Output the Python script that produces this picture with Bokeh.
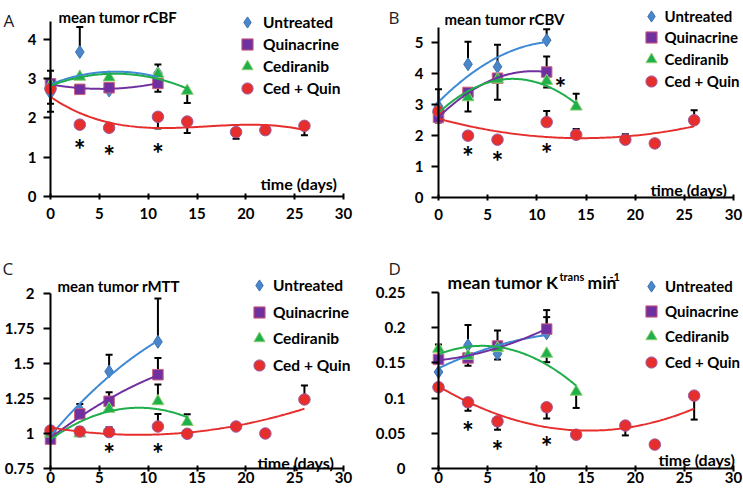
import numpy as np
from bokeh.plotting import figure
from bokeh.models import Range1d, FixedTicker, Label, Legend, LegendItem
from bokeh.layouts import column, row
from bokeh.embed import file_html
from bokeh.resources import INLINE
from bokeh.core.properties import value

# ---------------- data ----------------
series_names = ["Untreated", "Quinacrine", "Cediranib", "Ced + Quin"]
days_untreated = [0, 3, 6, 11]
days_quin = [0, 3, 6, 11]
days_ced = [0, 3, 6, 11, 14]
days_cq = [0, 3, 6, 11, 14, 19, 22, 26]
x_ticks = [0, 5, 10, 15, 20, 25, 30]

# Panel A: rCBF   (signed error: + upward bar, - downward bar, 0 none)
A_untreated = [2.64, 3.68, 2.70, 3.14]
A_untreated_err = [-0.28, 0.64, 0, 0.22]
A_quin = [2.87, 2.73, 2.77, 2.88]
A_quin_err = [0.33, 0, 0, -0.21]
A_ced = [2.84, 3.05, 3.03, 3.12, 2.69]
A_ced_err = [0, 0, 0, 0, -0.31]
A_cq = [2.74, 1.83, 1.75, 2.03, 1.91, 1.64, 1.69, 1.80]
A_cq_err = [-0.58, 0, 0, -0.30, -0.29, -0.17, 0, -0.24]
A_star_x = [3, 6, 11]
A_star_y = [1.30, 1.17, 1.22]
A_yticks = [0, 1, 2, 3, 4]
A_ylabels = ["0", "1", "2", "3", "4"]
A_fit_order = [2, 2, 2, 3]

# Panel B: rCBV
B_untreated = [2.95, 4.31, 4.23, 5.09]
B_untreated_err = [0.55, 0.73, 0.71, 0.35]
B_quin = [2.59, 3.40, 3.86, 4.06]
B_quin_err = [-0.16, 0, -0.70, 0.50]
B_ced = [2.85, 3.24, 3.82, 3.77, 2.94]
B_ced_err = [0, -0.46, 0, -0.21, 0.42]
B_cq = [2.79, 2.00, 1.87, 2.44, 2.03, 1.87, 1.75, 2.50]
B_cq_err = [0, 0, 0, 0.36, 0.19, 0.18, 0, 0.32]
B_star_x = [3, 6, 11, 12.4]
B_star_y = [1.46, 1.30, 1.57, 3.72]
B_yticks = [0, 1, 2, 3, 4, 5]
B_ylabels = ["0", "1", "2", "3", "4", "5"]
B_fit_order = [2, 2, 2, 2]

# Panel C: rMTT
C_untreated = [1.00, 1.17, 1.443, 1.655]
C_untreated_err = [0, 0.04, 0.12, 0.31]
C_quin = [0.96, 1.14, 1.23, 1.42]
C_quin_err = [0, 0, 0.065, 0.12]
C_ced = [1.00, 1.00, 1.176, 1.23, 1.082]
C_ced_err = [0, 0, 0, 0.12, 0.055]
C_cq = [1.021, 1.014, 1.01, 1.05, 0.998, 1.05, 1.00, 1.243]
C_cq_err = [0, 0.03, 0.035, 0.09, 0, 0, 0, 0.10]
C_star_x = [6, 11]
C_star_y = [0.886, 0.886]
C_yticks = [0.75, 1.0, 1.25, 1.5, 1.75, 2.0]
C_ylabels = ["0.75", "1", "1.25", "1.5", "1.75", "2"]
C_fit_order = [2, 2, 2, 2]

# Panel D: Ktrans
D_untreated = [0.137, 0.175, 0.163, 0.192]
D_untreated_err = [0, 0.029, -0.008, 0.023]
D_quin = [0.155, 0.157, 0.174, 0.198]
D_quin_err = [0, -0.011, 0.022, 0.027]
D_ced = [0.170, 0.160, 0.171, 0.163, 0.109]
D_ced_err = [0.006, 0, 0, -0.012, -0.023]
D_cq = [0.1155, 0.094, 0.067, 0.087, 0.048, 0.061, 0.034, 0.1035]
D_cq_err = [0, -0.012, -0.012, -0.016, 0, -0.014, 0, -0.034]
D_star_x = [3, 6, 11]
D_star_y = [0.0587, 0.0317, 0.038]
D_yticks = [0, 0.05, 0.1, 0.15, 0.2, 0.25]
D_ylabels = ["0", "0.05", "0.1", "0.15", "0.2", "0.25"]
D_fit_order = [2, 2, 2, 2]

# ---------------- styles ----------------
FONT = "Lato"
STYLE = {
    "Untreated": dict(marker="diamond", fill="#4a86c8", line="#3d74b5", trend="#3f8ad4", size=13),
    "Quinacrine": dict(marker="square", fill="#7030a0", line="#d0607a", trend="#7030a0", size=10.5),
    "Cediranib": dict(marker="triangle", fill="#1db04b", line="#92cf72", trend="#1fae4c", size=12),
    "Ced + Quin": dict(marker="circle", fill="#e62e2d", line="#9b5aa0", trend="#e62e2d", size=11.5),
}


def make_panel(spec, series, stars, yticks, ylabels, orders):
    fx, fy, w, h = spec["fx"], spec["fy"], spec["w"], spec["h"]
    ppu_x = (spec["x30"] - spec["x0"]) / 30.0
    ppu_y = (spec["ybot"] - spec["ytop"]) / (spec["ymax"] - spec["ymin"])
    x_start = -(spec["x0"] - fx) / ppu_x
    xr = Range1d(x_start, x_start + w / ppu_x)
    yr = Range1d(spec["ymin"] - (fy + h - spec["ybot"]) / ppu_y,
                 spec["ymin"] + (spec["ybot"] - fy) / ppu_y)
    p = figure(width=w, height=h, x_range=xr, y_range=yr, title=None,
               output_backend="svg", toolbar_location=None, min_border=0)
    p.outline_line_color = None
    p.grid.visible = False
    p.background_fill_color = "white"
    p.border_fill_color = "white"

    p.xaxis.fixed_location = spec["ymin"]
    p.xaxis.bounds = (0, 30)
    p.xaxis.ticker = FixedTicker(ticks=x_ticks)
    p.xaxis.major_tick_in = 3
    p.xaxis.major_tick_out = 3
    p.xaxis.major_label_standoff = spec["xstand"]
    p.yaxis.fixed_location = 0
    p.yaxis.bounds = (spec["ymin"], spec["ymax"])
    p.yaxis.ticker = FixedTicker(ticks=yticks)
    p.yaxis.major_label_overrides = {float(t): l for t, l in zip(yticks, ylabels)}
    p.yaxis.major_tick_in = 0
    p.yaxis.major_tick_out = 7
    p.yaxis.major_label_standoff = spec["ystand"]
    for ax in (p.xaxis, p.yaxis):
        ax.axis_line_width = 2
        ax.axis_line_color = "black"
        ax.major_tick_line_width = 2
        ax.major_tick_line_color = "black"
        ax.minor_tick_line_color = None
        ax.major_label_text_font = FONT
        ax.major_label_text_font_style = "bold"
        ax.major_label_text_font_size = "15px"
        ax.major_label_text_color = "black"

    # error bars
    for name, (xs, ys, errs) in zip(series_names, series):
        ex = [x for x, e in zip(xs, errs) if e != 0]
        ey0 = [y for y, e in zip(ys, errs) if e != 0]
        ey1 = [y + e for y, e in zip(ys, errs) if e != 0]
        if ex:
            p.segment(x0=ex, y0=ey0, x1=ex, y1=ey1, line_color="black", line_width=2)
            p.scatter(x=ex, y=ey1, marker="dash", size=7, line_color="black", line_width=2)

    # markers
    rends = []
    for name, (xs, ys, errs) in zip(series_names, series):
        st = STYLE[name]
        r = p.scatter(x=xs, y=ys, marker=st["marker"], size=st["size"],
                      fill_color=st["fill"], line_color=st["line"], line_width=1)
        rends.append(r)

    # polynomial trend lines (fitted to the series values)
    for name, (xs, ys, errs), order in zip(series_names, series, orders):
        coef = np.polyfit(xs, ys, order)
        fxs = np.linspace(0, max(xs), 120)
        p.line(x=fxs, y=np.polyval(coef, fxs), line_color=STYLE[name]["trend"], line_width=2)

    # significance stars
    sx, sy = stars
    p.text(x=sx, y=sy, text=["*"] * len(sx), text_font=value(FONT), text_font_style="bold",
           text_font_size="28px", text_align="center", text_baseline="alphabetic",
           y_offset=4, text_color="black")

    # legend: one box per entry so that rows sit exactly where the reference has them
    lg = spec["legend"]
    gh = 28
    for i, (n, r) in enumerate(zip(series_names, rends)):
        cy = lg["cy0"] + i * lg["dy"]
        legend = Legend(items=[LegendItem(label=n, renderers=[r])],
                        location=(lg["cx"] - gh / 2 - fx, fy + h - (cy + gh / 2)),
                        orientation="vertical", glyph_width=gh, glyph_height=gh, spacing=0,
                        label_standoff=lg["standoff"], padding=0, margin=0,
                        border_line_color=None, background_fill_alpha=0,
                        label_text_font=FONT, label_text_font_style="bold",
                        label_text_font_size=lg["font"], label_text_color="black", label_height=10)
        p.add_layout(legend)

    # texts (picture coordinates converted to frame-relative screen units)
    for txt, px, py, size, font, style in spec["texts"]:
        p.add_layout(Label(x=px - fx, y=fy + h - py, x_units="screen", y_units="screen",
                           text=txt, text_font=font, text_font_style=style,
                           text_font_size=size,
                           text_color="#222222" if style == "normal" else "black",
                           text_baseline="alphabetic", text_align="left"))
    return p


def S(days, vals, errs):
    return (days, vals, errs)


LW = 362  # width of the left column of panels

specA = dict(fx=0, fy=0, w=LW, h=250, x0=50, x30=343, ybot=196, ytop=21.3, ymin=0, ymax=4.45,
             xstand=8, ystand=7,
             legend=dict(cx=247, cy0=21.7, dy=22.2, standoff=2, font="15.5px"),
             texts=[("A", 3, 20, "17px", "Open Sans", "normal"),
                    ("mean tumor rCBF", 58, 16.7, "15px", FONT, "bold"),
                    ("time (days)", 260, 182.7, "16px", FONT, "bold")])
specB = dict(fx=LW, fy=0, w=743 - LW, h=250, x0=438, x30=733, ybot=197, ytop=27, ymin=0, ymax=5.5,
             xstand=8, ystand=8,
             legend=dict(cx=650.5, cy0=15.5, dy=21.7, standoff=0, font="15px"),
             texts=[("B", 388, 17, "17px", "Open Sans", "normal"),
                    ("mean tumor rCBV", 444, 18, "15px", FONT, "bold"),
                    ("time (days)", 650, 189, "16px", FONT, "bold")])
specC = dict(fx=0, fy=250, w=LW, h=250, x0=50, x30=343, ybot=468, ytop=293, ymin=0.75, ymax=2.0,
             xstand=0, ystand=9,
             legend=dict(cx=259, cy0=285, dy=26.7, standoff=0, font="15.5px"),
             texts=[("C", 2, 268, "17px", "Open Sans", "normal"),
                    ("mean tumor rMTT", 57, 285.7, "15px", FONT, "bold"),
                    ("time (days)", 257, 462.3, "16px", FONT, "bold")])
specD = dict(fx=LW, fy=250, w=743 - LW, h=250, x0=438, x30=733, ybot=468, ytop=292, ymin=0, ymax=0.25,
             xstand=0, ystand=26,
             legend=dict(cx=651, cy0=286, dy=25.2, standoff=0, font="15px"),
             texts=[("D", 388, 268, "17px", "Open Sans", "normal"),
                    ("mean tumor K", 447, 282, "17.5px", FONT, "bold"),
                    ("trans", 559, 276, "11px", FONT, "bold"),
                    ("min", 587, 282, "17.5px", FONT, "bold"),
                    ("-1", 609, 276, "11px", FONT, "bold"),
                    ("time (days)", 658, 459, "16px", FONT, "bold")])

pA = make_panel(specA, [S(days_untreated, A_untreated, A_untreated_err), S(days_quin, A_quin, A_quin_err),
                        S(days_ced, A_ced, A_ced_err), S(days_cq, A_cq, A_cq_err)],
                (A_star_x, A_star_y), A_yticks, A_ylabels, A_fit_order)
pB = make_panel(specB, [S(days_untreated, B_untreated, B_untreated_err), S(days_quin, B_quin, B_quin_err),
                        S(days_ced, B_ced, B_ced_err), S(days_cq, B_cq, B_cq_err)],
                (B_star_x, B_star_y), B_yticks, B_ylabels, B_fit_order)
pC = make_panel(specC, [S(days_untreated, C_untreated, C_untreated_err), S(days_quin, C_quin, C_quin_err),
                        S(days_ced, C_ced, C_ced_err), S(days_cq, C_cq, C_cq_err)],
                (C_star_x, C_star_y), C_yticks, C_ylabels, C_fit_order)
pD = make_panel(specD, [S(days_untreated, D_untreated, D_untreated_err), S(days_quin, D_quin, D_quin_err),
                        S(days_ced, D_ced, D_ced_err), S(days_cq, D_cq, D_cq_err)],
                (D_star_x, D_star_y), D_yticks, D_ylabels, D_fit_order)

layout = column(row(pA, pB), row(pC, pD))
open("out.html", "w").write(file_html(layout, INLINE))
